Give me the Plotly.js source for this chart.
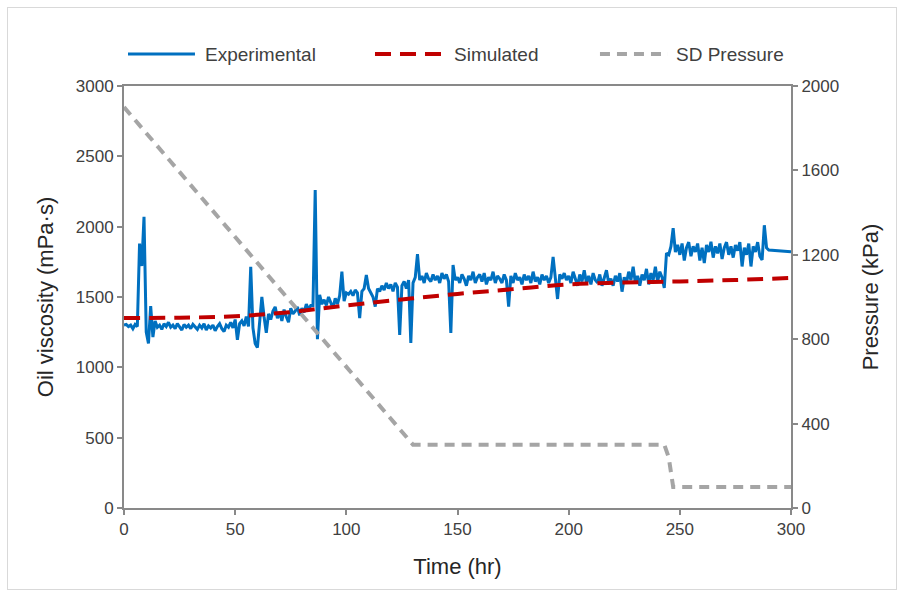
<!DOCTYPE html>
<html>
<head>
<meta charset="utf-8">
<script src="https://cdn.plot.ly/plotly-3.0.1.min.js"></script>
<style>
  html, body { margin: 0; padding: 0; background: #fff; }
  #wrap { position: relative; width: 904px; height: 597px; }
  #chart { width: 904px; height: 597px; }
  #frame { position: absolute; left: 7px; top: 7px; width: 888px; height: 581px; border: 1px solid #D9D9D9; pointer-events: none; }
</style>
</head>
<body>
<div id="wrap"><div id="chart"></div><div id="frame"></div></div>
<script>
// Experimental oil viscosity (mPa·s), hourly readings 0..290 h plus 300 h
const expTime = [];
for (let h = 0; h <= 290; h++) expTime.push(h);
expTime.push(300);
const expViscosity = [
  1300,1305,1290,1300,1275,1305,1290,1880,1720,2070,
  1250,1170,1435,1215,1330,1285,1300,1270,1310,1290,
  1320,1285,1300,1275,1310,1290,1265,1305,1285,1300,
  1275,1305,1290,1270,1300,1280,1310,1265,1295,1280,
  1300,1260,1290,1310,1275,1255,1300,1285,1320,1280,
  1340,1195,1310,1330,1295,1360,1290,1715,1280,1170,
  1140,1320,1500,1360,1245,1380,1340,1400,1430,1350,
  1390,1330,1410,1360,1320,1420,1380,1400,1430,1370,
  1420,1390,1450,1410,1440,1440,2260,1200,1515,1450,
  1480,1440,1500,1460,1420,1490,1450,1510,1680,1470,
  1530,1520,1540,1510,1550,1530,1350,1540,1560,1657,
  1560,1530,1500,1432,1560,1540,1580,1550,1600,1560,
  1590,1540,1600,1570,1230,1580,1610,1560,1620,1173,
  1600,1640,1805,1620,1650,1600,1670,1630,1610,1660,
  1620,1650,1600,1670,1630,1660,1610,1244,1728,1620,
  1640,1600,1660,1630,1580,1650,1620,1680,1600,1640,
  1660,1610,1670,1590,1640,1620,1680,1600,1650,1630,
  1600,1660,1620,1432,1650,1600,1670,1620,1640,1590,
  1660,1620,1650,1600,1680,1610,1640,1590,1660,1620,
  1650,1600,1640,1785,1620,1486,1660,1630,1670,1620,
  1650,1600,1680,1620,1580,1660,1610,1690,1600,1650,
  1590,1670,1620,1600,1660,1580,1640,1690,1600,1630,
  1580,1650,1610,1670,1538,1640,1600,1680,1620,1715,
  1600,1650,1580,1660,1620,1700,1590,1670,1620,1715,
  1610,1680,1640,1565,1812,1800,1860,1990,1820,1870,
  1800,1880,1760,1850,1890,1790,1860,1820,1880,1760,
  1850,1741,1870,1820,1893,1780,1860,1810,1880,1770,
  1850,1890,1800,1860,1780,1870,1830,1890,1717,1850,
  1800,1880,1717,1860,1820,1890,1790,1764,2010,1850,
  1834,
  1822
];

// Simulated oil viscosity (mPa·s)
const simTime = [0,25,50,75,100,125,150,175,200,225,250,275,300];
const simViscosity = [1350,1353,1363,1393,1440,1483,1522,1556,1590,1603,1611,1621,1635];

// SD pressure (kPa)
const pressTime = [0,130,243,245,247,300];
const pressure = [1900,300,300,240,100,100];

// Series names / styles
const seriesNames = ['Experimental', 'Simulated', 'SD Pressure'];
const seriesLines = [
  {color: '#0070C0', width: 3},
  {color: '#C00000', width: 4, dash: '16px,9px'},
  {color: '#A5A5A5', width: 4, dash: '10px,7px'}
];

const axisColor = '#898989';
const fam = 'Liberation Sans, Arial, sans-serif';
const tickFont = {family: fam, size: 17, color: '#404040'};
const titleFont = {family: fam, size: 22, color: '#262626'};

const traces = [
  {x: expTime, y: expViscosity, name: seriesNames[0], type: 'scatter', mode: 'lines',
   line: seriesLines[0], yaxis: 'y'},
  {x: simTime, y: simViscosity, name: seriesNames[1], type: 'scatter', mode: 'lines',
   line: Object.assign({shape: 'spline'}, seriesLines[1]), yaxis: 'y'},
  {x: pressTime, y: pressure, name: seriesNames[2], type: 'scatter', mode: 'lines',
   line: seriesLines[2], yaxis: 'y2'}
];

// Manual legend above the plot (paper coordinates)
const legY = 1.0758;
const legSym = [[0.006, 0.1064], [0.3763, 0.4813], [0.7136, 0.8156]];
const legText = [0.1184, 0.4918, 0.8246];
const shapes = legSym.map((s, i) => ({
  type: 'line', xref: 'paper', yref: 'paper', x0: s[0], x1: s[1], y0: legY, y1: legY,
  line: seriesLines[i]
}));
const annotations = legText.map((x, i) => ({
  xref: 'paper', yref: 'paper', x: x, y: legY, xanchor: 'left', yanchor: 'middle',
  text: seriesNames[i], showarrow: false, font: {family: fam, size: 19, color: '#404040'}
}));

const layout = {
  width: 904, height: 597,
  margin: {l: 124, r: 113, t: 86, b: 89},
  paper_bgcolor: '#ffffff', plot_bgcolor: '#ffffff',
  showlegend: false,
  shapes: shapes,
  annotations: annotations,
  xaxis: {range: [0, 300], tickvals: [0,50,100,150,200,250,300], showgrid: false, zeroline: false,
          showline: true, linecolor: axisColor, linewidth: 2, mirror: true,
          ticks: 'outside', ticklen: 5, tickwidth: 2, tickcolor: axisColor, tickfont: tickFont,
          title: {text: 'Time (hr)', font: titleFont, standoff: 20}},
  yaxis: {range: [0, 3000], tickvals: [0,500,1000,1500,2000,2500,3000], showgrid: false, zeroline: false,
          showline: true, linecolor: axisColor, linewidth: 2,
          ticks: 'outside', ticklen: 5, tickwidth: 2, tickcolor: axisColor, tickfont: tickFont,
          title: {text: 'Oil viscosity (mPa·s)', font: titleFont, standoff: 16}},
  yaxis2: {range: [0, 2000], tickvals: [0,400,800,1200,1600,2000], overlaying: 'y', side: 'right',
           showgrid: false, zeroline: false, showline: true, linecolor: axisColor, linewidth: 2,
           ticks: 'outside', ticklen: 5, tickwidth: 2, tickcolor: axisColor, tickfont: tickFont,
           title: {text: 'Pressure (kPa)', font: titleFont, standoff: 24}}
};

Plotly.newPlot('chart', traces, layout, {displayModeBar: false, staticPlot: true});
</script>
</body>
</html>
